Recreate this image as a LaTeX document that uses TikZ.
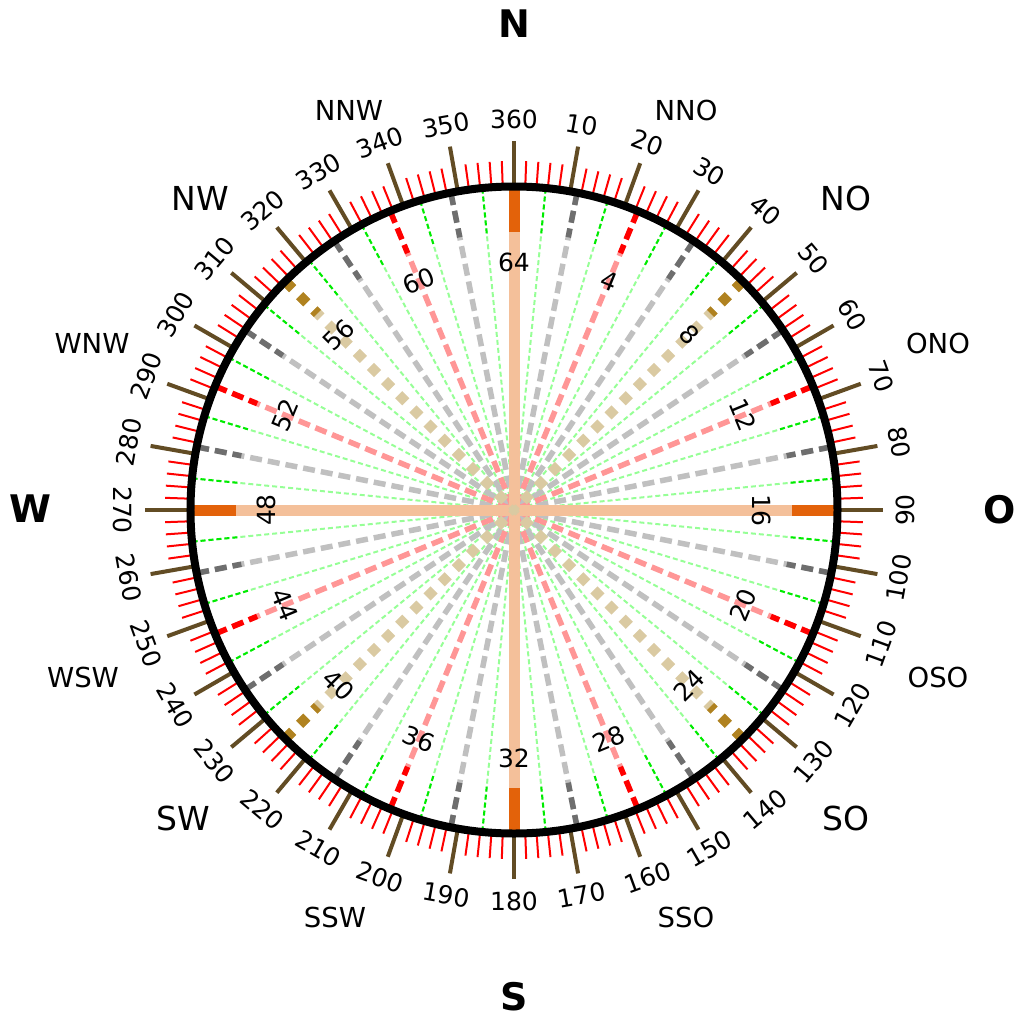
\documentclass[tikz,border=0pt]{standalone}
\usepackage{fontspec}
\setmainfont{DejaVu Sans}
\usepackage{xcolor}
\usepackage{tikz}

\definecolor{orangedark}{RGB}{227,98,10}
\definecolor{orangelight}{RGB}{244,192,154}
\definecolor{khakidark}{RGB}{176,130,32}
\definecolor{khakilight}{RGB}{218,202,162}
\definecolor{reddark}{RGB}{255,0,0}
\definecolor{redlight}{RGB}{255,150,150}
\definecolor{graydark}{RGB}{110,110,110}
\definecolor{graylight}{RGB}{192,192,192}
\definecolor{greendark}{RGB}{0,235,0}
\definecolor{greenlight}{RGB}{150,255,150}
\definecolor{tickbrown}{RGB}{98,76,36}

\begin{document}
\begin{tikzpicture}[
    x=1pt, y=1pt,
    cardinal/.style={font=\fontsize{38}{44}\selectfont\bfseries, inner sep=0pt},
    intercard/.style={font=\fontsize{33}{38}\selectfont, inner sep=0pt},
    subcard/.style={font=\fontsize{27.5}{32}\selectfont, inner sep=0pt},
    deglabel/.style={font=\fontsize{25}{30}\selectfont, inner sep=0pt},
    milabel/.style={font=\fontsize{25}{30}\selectfont, inner sep=0pt},
    oddray/.style={line width=2pt, dash pattern=on 5pt off 3pt},
    evenray/.style={line width=5.5pt, dash pattern=on 12pt off 6pt},
    diagray/.style={line width=10pt, dash pattern=on 10pt off 10pt},
    mainray/.style={line width=11pt}
]
\useasboundingbox (-514,-511) rectangle (510,510);

% Strahlen (ungerade)
\foreach \k in {1,3,...,63} {
    \draw[oddray, greenlight] (90-\k*5.625:323) -- (0,0);
    \draw[oddray, greendark] (90-\k*5.625:323) -- (90-\k*5.625:278);
}

% Strahlen (gerade)
\foreach \k in {2,6,...,62} {
    \draw[evenray, graylight] (90-\k*5.625:323) -- (0,0);
    \draw[evenray, graydark] (90-\k*5.625:323) -- (90-\k*5.625:278);
}

% Strahlen (Vielfache von 4)
\foreach \k in {4,12,...,60} {
    \draw[evenray, redlight] (90-\k*5.625:323) -- (0,0);
    \draw[evenray, reddark] (90-\k*5.625:323) -- (90-\k*5.625:278);
}

% Haupt-Strahlen
\foreach \k in {0,16,32,48} {
    \draw[mainray, orangelight] (90-\k*5.625:323) -- (0,0);
    \draw[mainray, orangedark] (90-\k*5.625:323) -- (90-\k*5.625:278);
}

% Diagonalen
\foreach \k in {8,24,40,56} {
    \draw[diagray, khakilight] (90-\k*5.625:323) -- (0,0);
    \draw[diagray, khakidark] (90-\k*5.625:323) -- (90-\k*5.625:278);
}

% Teilstriche
\foreach \a in {0,2,...,358}
    \draw[reddark, line width=2pt] (90-\a:323) -- (90-\a:349);
\foreach \a in {0,10,...,350}
    \draw[tickbrown, line width=4pt] (90-\a:323) -- (90-\a:369);

% Kreis
\draw[line width=8pt] (0,0) circle (323.5);

% Gradzahlen
\foreach \d in {0,10,...,350} {
    \pgfmathsetmacro\rot{(\d<90 || \d>270) ? -\d : 180-\d}
    \node[deglabel, rotate=\rot] (deg\d) at (90-\d:391) {\ifnum\d=0 360\else\d\fi};
}

% Strich-Zahlen
\foreach \k in {4,8,...,64} {
    \pgfmathsetmacro\ang{\k*5.625}
    \pgfmathsetmacro\rot{(\ang<=90 || \ang>=270) ? -\ang : 180-\ang}
    \node[milabel, rotate=\rot] (mil\k) at (90-\ang:248) {\k};
}

% Himmelsrichtungen
\node[cardinal] (n) at (0,486) {N};
\node[cardinal] (o) at (486,0) {O};
\node[cardinal] (s) at (0,-487) {S};
\node[cardinal] (w) at (-484,1) {W};

\node[intercard] (no) at (332,312) {NO};
\node[intercard] (so) at (332,-308) {SO};
\node[intercard] (sw) at (-331,-308) {SW};
\node[intercard] (nw) at (-314,312) {NW};

\node[subcard] (nno) at (172,400) {NNO};
\node[subcard] (nnw) at (-165,400) {NNW};
\node[subcard] (ono) at (424,167) {ONO};
\node[subcard] (oso) at (424,-167) {OSO};
\node[subcard] (wsw) at (-431,-167) {WSW};
\node[subcard] (wnw) at (-422,167) {WNW};
\node[subcard] (ssw) at (-179,-407) {SSW};
\node[subcard] (sso) at (172,-407) {SSO};

\end{tikzpicture}
\end{document}
